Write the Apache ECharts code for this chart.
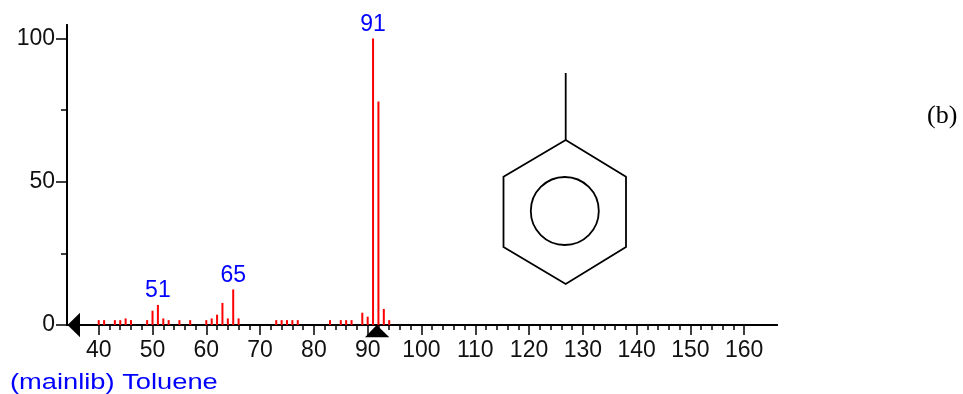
<!DOCTYPE html>
<html><head><meta charset="utf-8">
<style>html,body{margin:0;padding:0;background:#fff}#c{width:963px;height:394px}</style>
<script src="https://cdn.jsdelivr.net/npm/echarts@6/dist/echarts.min.js"></script></head>
<body><div id="c"></div>
<script>
const masses = [40,41,43,44,45,46,49,50,51,52,53,55,57,60,61,62,63,64,65,66,73,74,75,76,77,83,85,86,87,89,90,91,92,93,94];
const intensities = [1.7,1.7,1.7,1.7,2.3,1.7,1.7,5,7,2.3,1.7,1.7,1.7,1.7,2.3,3.6,7.7,2.3,12.4,2.3,1.7,1.7,1.7,1.7,1.7,1.7,1.7,1.7,1.7,4.3,2.9,100,78,5.6,1.7];
const labelledPeaks = [51,65,91];
const xMajorTicks = [40,50,60,70,80,90,100,110,120,130,140,150,160];
const xMinorTicks = [42,44,46,48,52,54,56,58,62,64,66,68,72,74,76,78,82,84,86,88,92,94,96,98,102,104,106,108,112,114,116,118,122,124,126,128,132,134,136,138,142,144,146,148,152,154,156,158];
const yMajorTicks = [0,50,100];
const yMinorTicks = [25,75];
const xRange = [34.1,166.1];
const yRange = [0,104.7];
const caption = '(mainlib) Toluene';
const panelTag = '(b)';

const FONT = '"Liberation Sans", Arial, sans-serif';
const mol = {lineWidth:1.8, stroke:'#000', fill:null};
const chart = echarts.init(document.getElementById('c'), null, {renderer:'canvas'});
const xBase = {type:'value', min:xRange[0], max:xRange[1], position:'bottom', splitLine:{show:false}, axisLine:{show:true, onZero:false, lineStyle:{color:'#000', width:2}}};
const yBase = {type:'value', min:yRange[0], max:yRange[1], position:'left', splitLine:{show:false}, axisLine:{show:true, lineStyle:{color:'#000', width:2}}};
chart.setOption({
  animation:false,
  backgroundColor:'#fff',
  grid:{left:67, top:25, width:710, height:300, containLabel:false},
  xAxis:[
    Object.assign({}, xBase, {axisTick:{show:true, length:10, customValues:xMajorTicks, lineStyle:{color:'#000', width:1.5}},
      axisLabel:{show:true, customValues:xMajorTicks, margin:14, color:'#111', fontFamily:FONT, fontSize:23, hideOverlap:false, showMinLabel:true, showMaxLabel:true}}),
    Object.assign({}, xBase, {axisTick:{show:true, length:5, customValues:xMinorTicks, lineStyle:{color:'#000', width:1.5}}, axisLabel:{show:false}})
  ],
  yAxis:[
    Object.assign({}, yBase, {axisTick:{show:true, length:11, customValues:yMajorTicks, lineStyle:{color:'#000', width:1.5}},
      axisLabel:{show:true, customValues:yMajorTicks, margin:12, padding:[2,0,0,0], color:'#111', fontFamily:FONT, fontSize:23}}),
    Object.assign({}, yBase, {axisTick:{show:true, length:6, customValues:yMinorTicks, lineStyle:{color:'#000', width:1.5}}, axisLabel:{show:false}})
  ],
  series:[{
    type:'bar', xAxisIndex:0, yAxisIndex:0, barWidth:2, silent:true,
    itemStyle:{color:'#ff0000'},
    data:masses.map((m,i)=>({
      value:[m,intensities[i]],
      label:{show:labelledPeaks.includes(m), position:'top', distance:2.5, formatter:String(m), color:'#0000ff', fontFamily:FONT, fontSize:23}
    }))
  }],
  graphic:[
    {type:'polygon', shape:{points:[[67.5,325],[80,312.7],[80,337.3]]}, style:{fill:'#000'}},
    {type:'polygon', shape:{points:[[376.7,325],[365,337.3],[389.3,337.3]]}, style:{fill:'#000'}},
    {type:'polygon', shape:{points:[[565.7,140],[626,176.7],[626,247],[565.7,284],[503.5,247],[503.5,176.7]]}, style:mol},
    {type:'line', shape:{x1:565.7,y1:73,x2:565.7,y2:140}, style:mol},
    {type:'circle', shape:{cx:564.8,cy:211,r:34}, style:mol},
    {type:'text', x:10, y:383, scaleX:1.24, style:{text:caption, fill:'#0000ff', font:'22px '+FONT, textVerticalAlign:'middle'}},
    {type:'text', x:927, y:116, style:{text:panelTag, fill:'#000', font:'26px "Liberation Serif", serif', textVerticalAlign:'middle'}}
  ]
});
</script></body></html>
